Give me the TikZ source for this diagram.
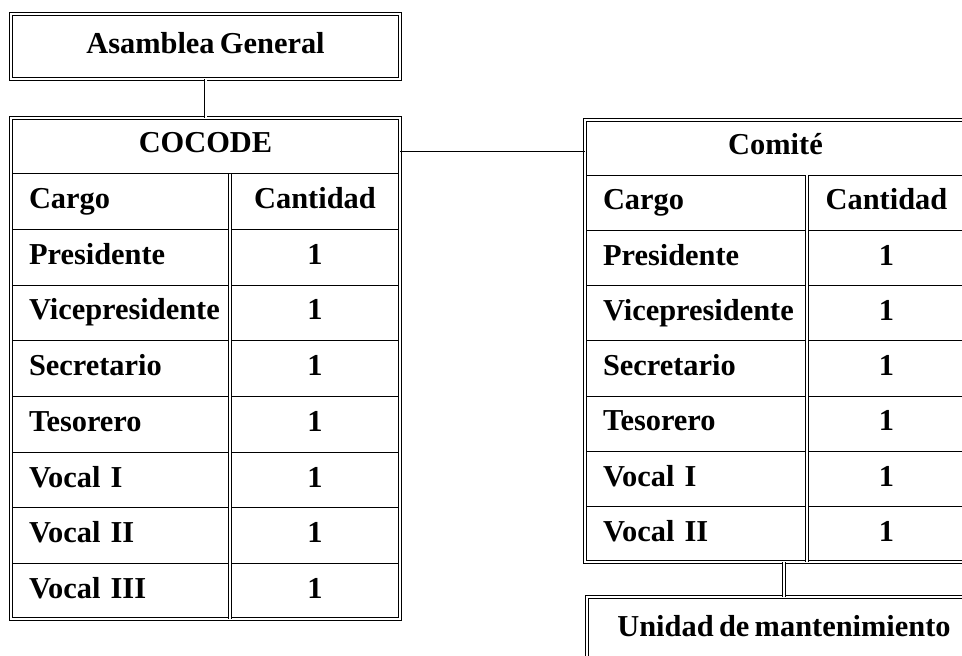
\documentclass[tikz,border=0pt]{standalone}
\usepackage{fontspec}
\setmainfont[WordSpace=0.7]{Liberation Serif}
\usetikzlibrary{positioning}
\tikzset{boxfont/.style={font=\fontsize{15.2pt}{18pt}\selectfont\bfseries},
cell/.style={draw, boxfont, anchor=north west, inner sep=0pt, outer sep=0pt, text height=10.5pt, text depth=3.5pt},
cargocell/.style={cell, text width=#1, align=left, execute at begin node=\hspace*{9pt}},
cantcell/.style={cell, minimum width=#1},
framed/.style={double, double distance=1pt, line width=0.45pt}}

\begin{document}
\begin{tikzpicture}[x=0.5pt, y=-0.5pt, line width=0.5pt]
    \useasboundingbox (0,0) rectangle (962,656);

    % Asamblea General
    \node[cell, minimum width=194.5pt, minimum height=32.5pt] (asamblea) at (11,14) {Asamblea General};
    \draw[framed] (asamblea.north west) rectangle (asamblea.south east);

    % COCODE table
    \node[cell, minimum width=194.5pt, minimum height=27.85pt] (cocode) at (11,118) {COCODE};
    \node[cargocell=109.5pt, minimum height=27.85pt] (cocode-0) at (11,173.7) {Cargo};
    \node[cantcell=85pt, minimum height=27.85pt] (cocodecant-0) at (230,173.7) {Cantidad};
    \foreach \cargo [count=\i] in {Presidente, Vicepresidente, Secretario, Tesorero, Vocal I, Vocal II, Vocal III} {
        \node[cargocell=109.5pt, minimum height=27.85pt] (cocode-\i) at (11,{118+55.7*(\i+1)}) {\cargo};
        \node[cantcell=85pt, minimum height=27.85pt] (cocodecant-\i) at (230,{118+55.7*(\i+1)}) {1};
    }
    \draw[framed] (cocode.north west) rectangle (cocodecant-7.south east);
    \draw[framed] (cocode-0.north east) -- (cocode-7.south east);

    % Comite table
    \node[cell, minimum width=190.5pt, minimum height=27.625pt] (comite) at (585,120) {Comité};
    \node[cargocell=111pt, minimum height=27.625pt] (comite-0) at (585,175.25) {Cargo};
    \node[cantcell=79.5pt, minimum height=27.625pt] (comitecant-0) at (807,175.25) {Cantidad};
    \foreach \cargo [count=\i] in {Presidente, Vicepresidente, Secretario, Tesorero, Vocal I, Vocal II} {
        \node[cargocell=111pt, minimum height=27.625pt] (comite-\i) at (585,{120+55.25*(\i+1)}) {\cargo};
        \node[cantcell=79.5pt, minimum height=27.625pt] (comitecant-\i) at (807,{120+55.25*(\i+1)}) {1};
    }
    \draw[framed] (comite.north west) rectangle (comitecant-6.south east);
    \draw[framed] (comite-0.north east) -- (comite-6.south east);

    % Unidad de mantenimiento
    \node[cell, minimum width=197pt, minimum height=32pt] (unidad) at (587,597) {Unidad de mantenimiento};
    \draw[framed] (unidad.north west) rectangle (unidad.south east);

    % Connectors
    \draw[framed] (asamblea.south) -- (cocode.north);
    \coordinate (link) at ([yshift=-3pt]cocode.east);
    \draw (link) -- (link -| comite.west);
    \draw[framed] (unidad.north) -- (unidad.north |- comite-6.south);
\end{tikzpicture}
\end{document}
